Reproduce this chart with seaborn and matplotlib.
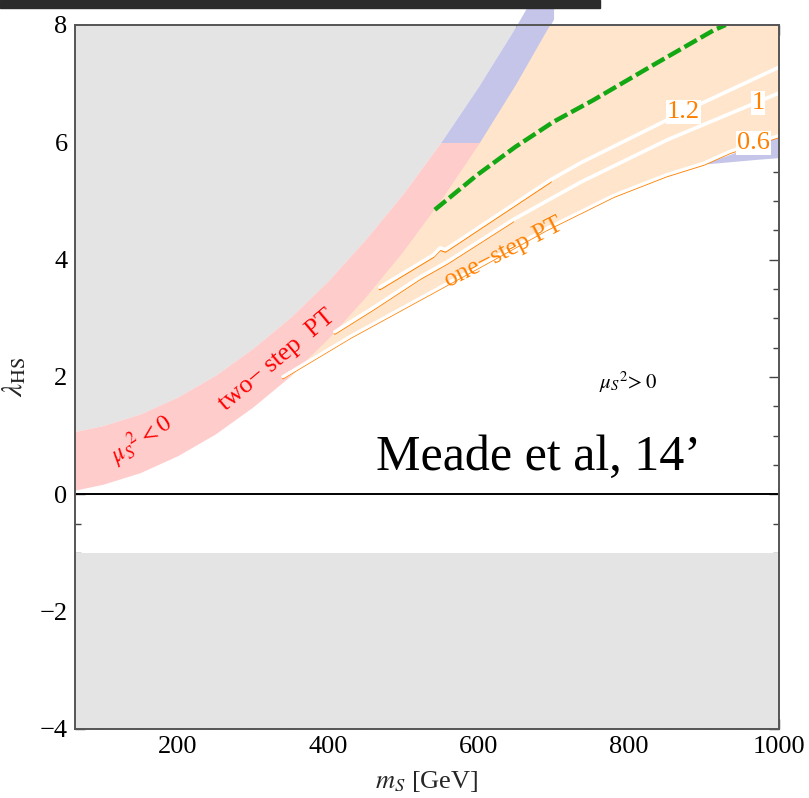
import numpy as np
import matplotlib
matplotlib.use("Agg")
import matplotlib.pyplot as plt
import matplotlib.transforms as mtransforms
from matplotlib.patches import Rectangle
import seaborn as sns
import pandas as pd

# --- boundary curves in the (m_S, lambda_HS) plane ---------------------------
m_grid = [62.5, 100, 150, 200, 250, 300, 350, 400, 450, 500, 550, 600, 650, 700]
# mu_S^2 = 0 boundary
lam_mu0 = [0.07, 0.17, 0.37, 0.66, 1.03, 1.49, 2.02, 2.64, 3.35, 4.13, 5.00, 5.95, 6.98, 8.10]
# upper edge of the two-step band
lam_top = [1.07, 1.17, 1.37, 1.66, 2.03, 2.49, 3.02, 3.64, 4.35, 5.13, 6.00, 6.95, 7.98, 9.10]

# lower edge of the one-step region (v_c/T_c = 0.6 contour)
m_c06 = [340, 430, 520, 610, 690, 780, 850, 900, 935, 1000]
lam_c06 = [1.98, 2.67, 3.30, 3.93, 4.50, 5.07, 5.42, 5.62, 5.82, 6.09]
# v_c/T_c = 1 contour
m_c10 = [409, 460, 522, 558, 646, 736, 851, 1000]
lam_c10 = [2.77, 3.18, 3.70, 3.96, 4.68, 5.32, 6.04, 6.84]
# v_c/T_c = 1.2 contour
m_c12 = [469, 540, 549, 556, 696, 736, 873, 1000]
lam_c12 = [3.53, 4.08, 4.20, 4.17, 5.36, 5.65, 6.52, 7.28]

# edge of the allowed region at large m_S
m_edge = [900, 935, 970, 1000]
lam_edge = [5.62, 5.66, 5.70, 5.73]

# green dashed boundary
m_green = [542, 598, 649, 700, 753, 833, 913, 929]
lam_green = [4.85, 5.44, 5.92, 6.35, 6.72, 7.32, 7.91, 8.00]

contour_levels = ["1.2", "1", "0.6"]
contour_label_pos = [(873, 6.52), (972, 6.67), (966, 5.99)]

x_ticks = [200, 400, 600, 800, 1000]
y_ticks = [-4, -2, 0, 2, 4, 6, 8]

GRAY = "#e4e4e4"
PINK = "#ffcccc"
BLUE = "#c5c5ea"
ORANGE_FILL = "#ffe5cc"
ORANGE = "#ff8000"
GREEN = "#13a813"

sns.set_theme(style="ticks")
plt.rcParams["font.family"] = ["Liberation Serif", "DejaVu Serif"]
plt.rcParams["mathtext.fontset"] = "stix"

fig = plt.figure(figsize=(8.09, 7.98), dpi=100)
ax = fig.add_axes([0.0921, 0.0865, 0.8708, 0.8822])
ax.set_xlim(62.5, 1000)
ax.set_ylim(-4, 8)

m = np.array(m_grid)
lo = np.array(lam_mu0)
hi = np.array(lam_top)

# excluded regions
ax.fill_between(m, hi, 12, color=GRAY, lw=0, zorder=1)
ax.fill_between(np.array([62.5, 1000]), -4, -1, color=GRAY, lw=0, zorder=1)

# two-step band: pink below lambda=6, blue above
pink = ax.fill_between(m, lo, hi, color=PINK, lw=0, zorder=2)
pink.set_clip_path(Rectangle((62.5, -4), 1000, 10, transform=ax.transData))
blue = ax.fill_between(m, lo, hi, color=BLUE, lw=0, zorder=2)
blue.set_clip_path(Rectangle((62.5, 6), 1000, 10, transform=ax.transData))

# one-step region between the 0.6 contour and the mu_S^2 = 0 line
sel = m >= 350
poly_x = list(m_c06) + [1000, 1000] + list(m[sel][::-1])
poly_y = list(lam_c06) + [12, 12] + list(lo[sel][::-1])
ax.fill(poly_x, poly_y, color=ORANGE_FILL, lw=0, zorder=3)

# blue sliver at large mass
ax.fill(list(m_edge) + [1000, 900], list(lam_edge) + [6.09, 5.62],
        color=BLUE, lw=0, zorder=3)

# orange region edges with the white contours drawn just above them
up = mtransforms.offset_copy(ax.transData, fig=fig, x=0, y=1.5, units="dots")
down = mtransforms.offset_copy(ax.transData, fig=fig, x=0, y=-1.8, units="dots")
ax.plot(m_c06, lam_c06, color=ORANGE, lw=1.6, zorder=4)
ax.plot(m_c12[:5], lam_c12[:5], color=ORANGE, lw=1.8, zorder=4, transform=down)
ax.plot(m_c10[:5], lam_c10[:5], color=ORANGE, lw=1.6, zorder=4, transform=down)

contours = pd.concat([
    pd.DataFrame({"m": m_c12, "lam": lam_c12, "level": "1.2"}),
    pd.DataFrame({"m": m_c10, "lam": lam_c10, "level": "1"}),
])
for lvl, grp in contours.groupby("level"):
    ax.plot(grp["m"], grp["lam"], color="white", lw=2.6, zorder=5,
            solid_capstyle="round")
ax.plot(m_c06, lam_c06, color="white", lw=2.4, zorder=5, transform=up)

# green dashed line
sns.lineplot(x=m_green, y=lam_green, ax=ax, sort=False, color=GREEN,
             lw=3.2, dashes=False, zorder=6)
ax.lines[-1].set_dashes((3.2, 1.0))

# lambda_HS = 0
ax.axhline(0, color="black", lw=1.4, zorder=6)

# contour labels
for lvl, (xl, yl) in zip(contour_levels, contour_label_pos):
    ax.text(xl, yl, lvl, color=ORANGE, fontsize=19, ha="center", va="center",
            zorder=7, bbox=dict(facecolor="white", edgecolor="none", pad=0.5))

# region annotations
def rot_text(x, y, s, angle, **kw):
    ax.text(x, y, s, rotation=angle, rotation_mode="anchor", ha="center",
            va="center", zorder=7, **kw)

def px2data(px, py):
    return 62.5 + (px - 74.5) / 0.751, 8 - (py - 25) / 58.67

x0, y0 = px2data(277, 360)
rot_text(x0, y0, "two\u2212 step  PT", 40, color="red", fontsize=18.5)
x0, y0 = px2data(141, 440)
rot_text(x0, y0, r"$\mu_S{}^2 < 0$", 33, color="red", fontsize=17)
x0, y0 = px2data(503, 253)
rot_text(x0, y0, "one\u2212step PT", 27, color=ORANGE, fontsize=18.5)
x0, y0 = px2data(628, 382)
rot_text(x0, y0, r"$\mu_S{}^2\!> 0$", 0, color="black", fontsize=15)
x0, y0 = px2data(538, 458)
rot_text(x0, y0, "Meade et al, 14\u2019", 0, color="black", fontsize=36)

# axes styling
ax.set_xticks(x_ticks)
ax.set_yticks(y_ticks)
ax.set_xticks(np.arange(100, 1001, 50), minor=True)
ax.set_yticks(np.arange(-4, 8.01, 0.5), minor=True)
ax.set_xticklabels([str(v) for v in x_ticks])
ax.set_yticklabels([str(v).replace("-", "\u2212") for v in y_ticks])
ax.tick_params(which="both", direction="in", top=True, right=True,
               color="#444444", width=1.0, labelsize=19, labelcolor="black")
ax.tick_params(which="major", length=7, pad=5)
ax.tick_params(which="minor", length=4)
for sp in ax.spines.values():
    sp.set_color("#555555")
    sp.set_linewidth(1.4)
    sp.set_zorder(10)
ax.set_xlabel(r"$m_S$ [GeV]", fontsize=19, labelpad=8)
ax.set_ylabel(r"$\lambda_{\mathrm{HS}}$", fontsize=21, labelpad=8)

# dark header strip
fig.patches.append(Rectangle((0, 1 - 8 / 798), 600 / 809, 8 / 798,
                             transform=fig.transFigure, color="#2b2b2b"))

fig.savefig("out.png", dpi=100)
